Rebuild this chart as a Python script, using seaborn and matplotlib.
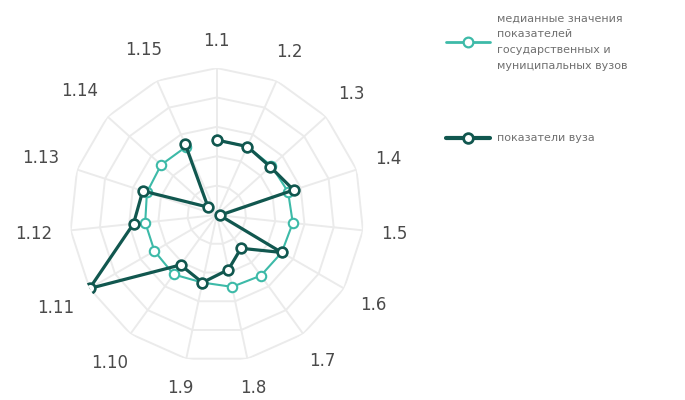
import numpy as np
import pandas as pd
import seaborn as sns
import matplotlib.pyplot as plt
from matplotlib.lines import Line2D

# indicator labels (clockwise from top)
labels = ['1.1', '1.2', '1.3', '1.4', '1.5', '1.6', '1.7', '1.8',
          '1.9', '1.10', '1.11', '1.12', '1.13', '1.14', '1.15']

# median values of state/municipal universities (normalised scale 0..1)
median_vals = [0.51, 0.51, 0.50, 0.51, 0.52, 0.51, 0.51, 0.50,
               0.47, 0.50, 0.49, 0.49, 0.50, 0.51, 0.51]

# values of the university
uni_vals = [0.51, 0.51, 0.49, 0.55, 0.02, 0.51, 0.28, 0.38,
            0.47, 0.42, 1.00, 0.57, 0.53, 0.08, 0.53]

series_names = ['медианные значения\nпоказателей\nгосударственных и\nмуниципальных вузов',
                'показатели вуза']

ring_levels = [0.2, 0.4, 0.6, 0.8, 1.0]

col_median = '#3dbaa8'
col_uni = '#11574f'
col_grid = '#ebebeb'
col_text = '#4a4a4a'

sns.set_style('white')
plt.rcParams['font.family'] = ['DejaVu Sans']

n = len(labels)
angles = np.linspace(0, 2 * np.pi, n, endpoint=False)
closed = np.append(angles, angles[0])

df = pd.DataFrame({
    'theta': np.concatenate([closed, closed]),
    'r': np.concatenate([median_vals + median_vals[:1], uni_vals + uni_vals[:1]]),
    'series': [series_names[0]] * (n + 1) + [series_names[1]] * (n + 1),
})

fig = plt.figure(figsize=(6.85, 4.0), dpi=100)
ax = fig.add_axes([0.102, 0.095, 0.429, 0.735], projection='polar')
ax.set_theta_zero_location('N')
ax.set_theta_direction(-1)

# polygon grid
for lv in ring_levels:
    ax.plot(closed, [lv] * (n + 1), color=col_grid, lw=1.4, zorder=1)
for a in angles:
    ax.plot([a, a], [0, 1.0], color=col_grid, lw=1.4, zorder=1)

# median series
sub = df[df['series'] == series_names[0]]
sns.lineplot(data=sub, x='theta', y='r', sort=False, ax=ax, color=col_median,
             lw=1.5, marker='o', markersize=6.8, markerfacecolor='white',
             markeredgecolor=col_median, markeredgewidth=1.5, zorder=3)

# university series
sub = df[df['series'] == series_names[1]]
sns.lineplot(data=sub, x='theta', y='r', sort=False, ax=ax, color=col_uni,
             lw=2.3, marker='o', markersize=7, markerfacecolor='white',
             markeredgecolor=col_uni, markeredgewidth=1.9, zorder=4)

ax.set_ylim(0, 1.0)
ax.set_yticks([])
ax.set_xticks(angles)
ax.set_xticklabels([])
ax.grid(False)
ax.spines['polar'].set_visible(False)
ax.set_xlabel('')
ax.set_ylabel('')
if ax.get_legend() is not None:
    ax.get_legend().remove()

# category labels: placed just outside the outer ring, pushed out by their own size
renderer = fig.canvas.get_renderer()
base_px = 18
for a, lab in zip(angles, labels):
    t = ax.annotate(lab, xy=(a, 1.0), xytext=(0, 0), textcoords='offset pixels',
                    ha='center', va='center', fontsize=12, color=col_text)
    bb = t.get_window_extent(renderer)
    ext = bb.width / 2 * abs(np.sin(a)) + bb.height / 2 * abs(np.cos(a))
    d = base_px + ext
    t.set_position((d * np.sin(a), d * np.cos(a)))

handles = [
    Line2D([], [], color=col_median, lw=2.0, marker='o', markersize=7,
           markerfacecolor='white', markeredgecolor=col_median, markeredgewidth=1.6),
    Line2D([], [], color=col_uni, lw=3.0, marker='o', markersize=7,
           markerfacecolor='white', markeredgecolor=col_uni, markeredgewidth=2.0),
]
leg = fig.legend(handles, series_names, loc='upper left', bbox_to_anchor=(0.636, 0.992),
                 frameon=False, fontsize=8, labelcolor='#707070', handlelength=4.0,
                 handletextpad=0.6, labelspacing=5.6)
for t in leg.get_texts():
    t.set_linespacing(1.75)

fig.savefig('out.png', dpi=100)
